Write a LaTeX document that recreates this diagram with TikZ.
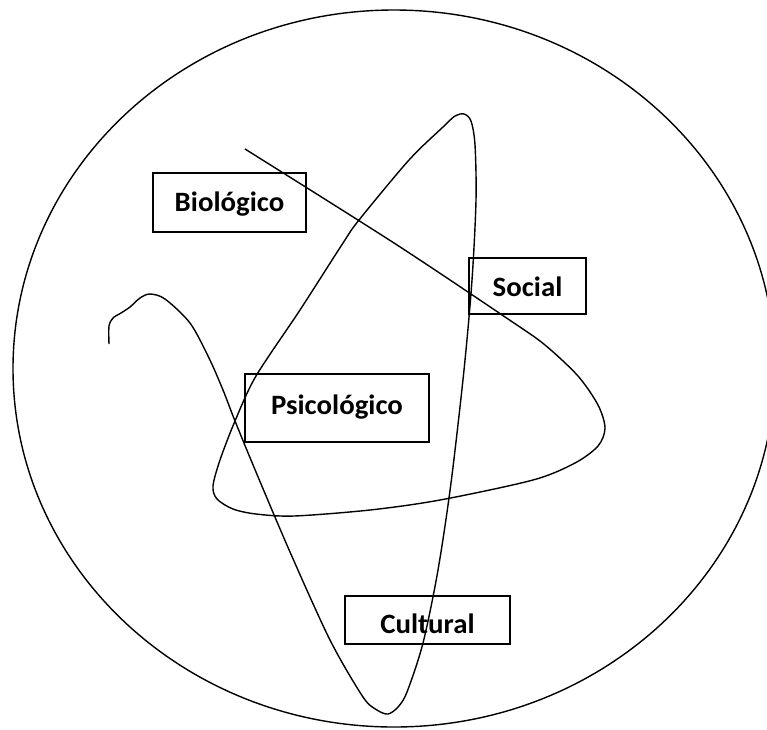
\documentclass[tikz,border=0pt]{standalone}
\usepackage{fontspec}
\newfontfamily\lblfont{Carlito}[FakeStretch=1.03]
\begin{document}
\begin{tikzpicture}[x=1pt,y=-1pt,line width=1.4pt,
  lbl/.style={draw,line width=1.4pt,inner sep=0pt,text depth=0pt,
    font=\lblfont\fontsize{28}{31}\selectfont\bfseries}]
\clip (0,0) rectangle (767,729);
\draw (394,368.5) ellipse [x radius=381, y radius=358.5];
\draw plot[smooth,tension=0.5] coordinates {
 (109,344) (109,326) (113,318) (121,313) (130,307) (140,298) (150,294)
 (165,299) (190,323) (209,358) (223,390) (235,421) (256,472) (290,552)
 (330,640) (363,697) (377,710) (388,714) (398,707) (407,692) (423,643)
 (438,570) (451,483) (464,370) (472,280) (476,200) (475,145) (471,121)
 (464,114) (455,116) (443,127) (409,160) (359,220) (343,243) (300,310)
 (256,376) (235,421) (220,460) (213,486) (217,499) (233,509) (256,514)
 (294,516) (370,510) (440,500) (533,480) (575,463) (598,446) (605,428)
 (598,405) (578,376) (545,345) (511,321) (394,243) (245,149)};
\node[lbl,minimum width=153,minimum height=59,text height=18pt] (bio) at (229.5,202.5) {Biológico};
\node[lbl,minimum width=117,minimum height=56,text height=20pt] (soc) at (527.5,286) {Social};
\node[lbl,minimum width=184,minimum height=68,text height=12pt] (psi) at (337,408) {Psicológico};
\node[lbl,minimum width=165,minimum height=48,text height=26pt] (cul) at (427.5,620) {Cultural};
\end{tikzpicture}
\end{document}
